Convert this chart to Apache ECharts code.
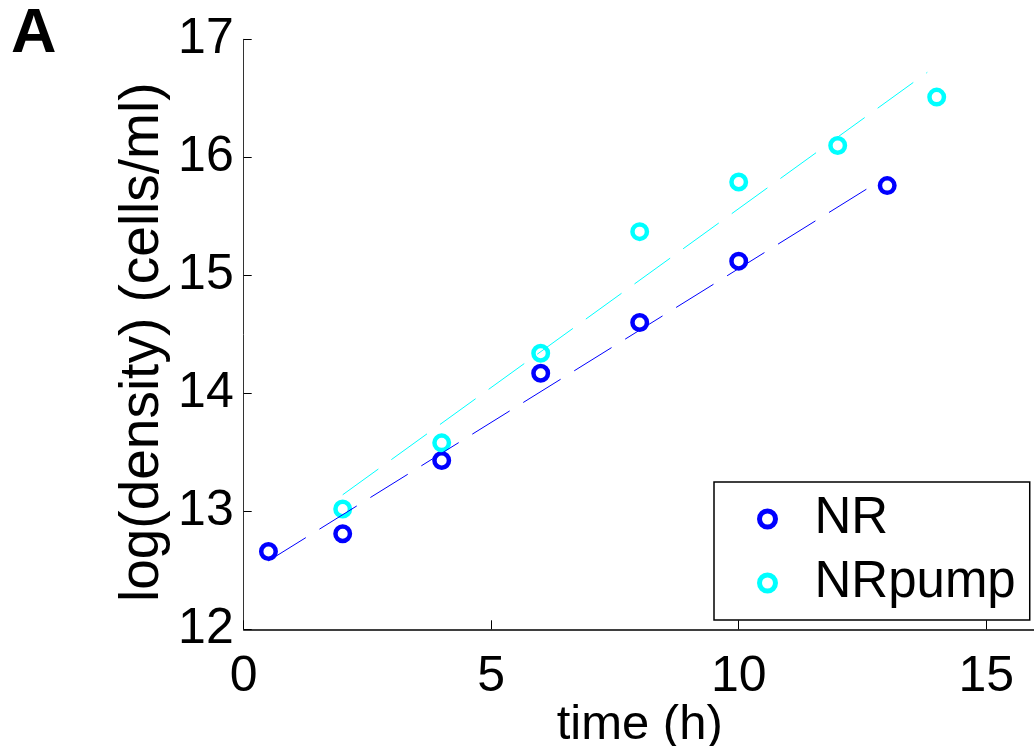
<!DOCTYPE html>
<html>
<head>
<meta charset="utf-8">
<script src="https://cdn.jsdelivr.net/npm/echarts@6/dist/echarts.min.js"></script>
<style>
html,body{margin:0;padding:0;background:#fff;}
#chart{width:1034px;height:746px;}
</style>
</head>
<body>
<div id="chart"></div>
<script>
// Data
const timeNR = [0.5, 2, 4, 6, 8, 10, 13];
const densityNR = [12.66, 12.81, 13.43, 14.17, 14.60, 15.12, 15.76];
const timePump = [2, 4, 6, 8, 10, 12, 14];
const densityPump = [13.02, 13.58, 14.34, 15.37, 15.79, 16.10, 16.51];
// Fitted (dashed) lines: end points
const fitNRx = [0.5, 12.85];
const fitNRy = [12.58, 15.80];
const fitPumpX = [2, 13.81];
const fitPumpY = [13.14, 16.72];
const seriesNames = ['NR', 'NRpump'];
const xTicks = [0, 5, 10, 15];
const yTicks = [12, 13, 14, 15, 16, 17];

const BLUE = '#0000FF';
const CYAN = '#00FFFF';
const FONT = 'Liberation Sans, Arial, Helvetica, sans-serif';

const zip = (xs, ys) => xs.map((x, i) => [x, ys[i]]);

const chart = echarts.init(document.getElementById('chart'));
chart.setOption({
  animation: false,
  backgroundColor: '#fff',
  title: {
    text: 'A',
    left: 6,
    top: -2,
    textStyle: {fontFamily: FONT, fontSize: 63, fontWeight: 'bold', color: '#000'}
  },
  grid: {left: 243.7, top: 39.3, width: 792, height: 590, outerBoundsMode: 'none', containLabel: false},
  xAxis: {
    type: 'value',
    min: 0, max: 16, interval: 5,
    name: 'time (h)',
    nameLocation: 'middle',
    nameGap: 72,
    nameMoveOverlap: false,
    nameTextStyle: {fontFamily: FONT, fontSize: 49, color: '#000'},
    axisLine: {show: true, lineStyle: {color: '#000', width: 1.5}},
    axisTick: {show: true, inside: true, length: 9, lineStyle: {color: '#000', width: 1}},
    axisLabel: {
      fontFamily: FONT, fontSize: 50, color: '#000', margin: 23,
      showMaxLabel: false,
      formatter: v => (xTicks.indexOf(v) >= 0 ? String(v) : '')
    },
    splitLine: {show: false}
  },
  yAxis: {
    type: 'value',
    min: 12, max: 17, interval: 1,
    name: 'log(density) (cells/ml)',
    nameLocation: 'middle',
    nameGap: 73,
    nameMoveOverlap: false,
    nameTextStyle: {fontFamily: FONT, fontSize: 55, color: '#000', padding: [0, 16, 0, 0]},
    axisLine: {show: true, lineStyle: {color: '#333', width: 1}},
    axisTick: {show: true, inside: true, length: 8, lineStyle: {color: '#000', width: 1}},
    axisLabel: {
      fontFamily: FONT, fontSize: 50, color: '#000', margin: 10,
      formatter: v => (yTicks.indexOf(v) >= 0 ? String(v) : '')
    },
    splitLine: {show: false}
  },
  legend: {
    data: seriesNames,
    orient: 'vertical',
    left: 714,
    top: 482,
    padding: [9, 14, 9, 43],
    itemGap: 8,
    itemWidth: 16,
    itemHeight: 16,
    icon: 'circle',
    itemStyle: {color: '#fff', borderWidth: 5, opacity: 1},
    backgroundColor: '#fff',
    borderColor: '#000',
    borderWidth: 1.5,
    borderRadius: 0,
    textStyle: {fontFamily: FONT, fontSize: 51, color: '#000', lineHeight: 56, padding: [0, 0, 0, 34]}
  },
  series: [
    {
      name: seriesNames[0], type: 'scatter',
      data: zip(timeNR, densityNR),
      symbol: 'circle', symbolSize: 14.5,
      itemStyle: {color: '#fff', borderColor: BLUE, borderWidth: 4.5, opacity: 1}
    },
    {
      name: seriesNames[1], type: 'scatter',
      data: zip(timePump, densityPump),
      symbol: 'circle', symbolSize: 14.5,
      itemStyle: {color: '#fff', borderColor: CYAN, borderWidth: 4.5, opacity: 1}
    },
    {
      name: 'NR fit', type: 'line',
      data: zip(fitNRx, fitNRy),
      symbol: 'none', silent: true,
      lineStyle: {color: BLUE, width: 1, type: [44, 16]}
    },
    {
      name: 'NRpump fit', type: 'line',
      data: zip(fitPumpX, fitPumpY),
      symbol: 'none', silent: true,
      lineStyle: {color: CYAN, width: 1, type: [44, 16]}
    }
  ]
});
</script>
</body>
</html>
